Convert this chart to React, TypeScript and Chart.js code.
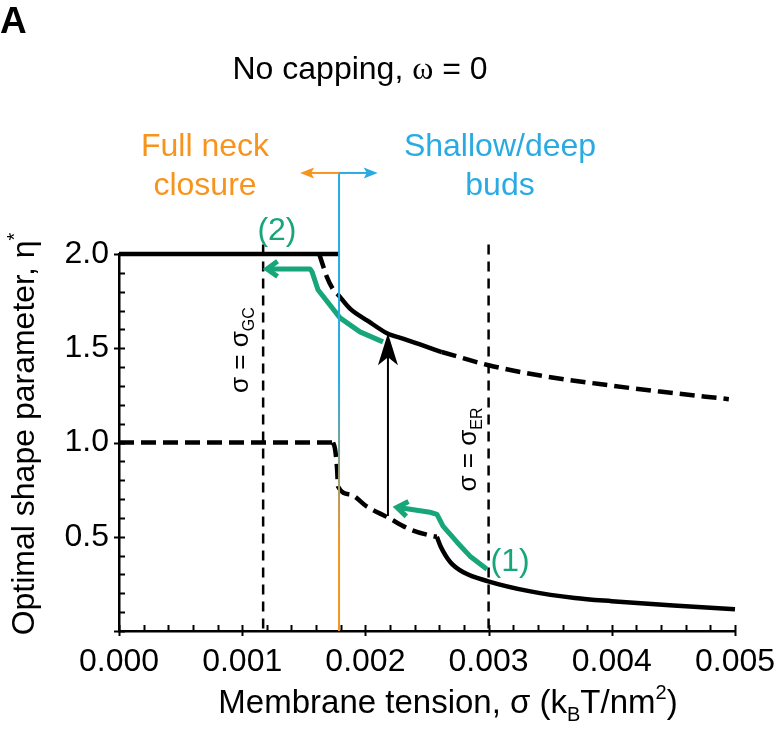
import React, { useEffect, useRef } from "react";
import { Chart, registerables } from "chart.js";
Chart.register(...registerables);

// ---------- axis definition ----------
const xTickLabels = ["0.000", "0.001", "0.002", "0.003", "0.004", "0.005"];
const yTickLabels = ["0.5", "1.0", "1.5", "2.0"];
const X_MAX = 0.005;
const X_MINOR = 0.0002;
const X_MAJOR = 0.001;
const Y_MAX = 2.0;
const Y_MINOR = 0.1;
const Y_MAJOR = 0.5;

// ---------- upper branch (eta ~ 2) ----------
const upperFlatSigma = [0, 0.001786];
const upperFlatEta = [2.0, 2.0];
const upperDropSigma = [0.001625, 0.001655, 0.001686, 0.00174, 0.00178];
const upperDropEta = [2.0, 1.94, 1.88, 1.81, 1.783];
const upperStableSigma = [0.00178, 0.001875, 0.00202, 0.002175, 0.00231, 0.002443, 0.00262];
const upperStableEta = [1.783, 1.71, 1.645, 1.58, 1.55, 1.52, 1.48];
const upperMetaSigma = [0.00262, 0.003, 0.00342, 0.0039, 0.00439, 0.00495];
const upperMetaEta = [1.48, 1.41, 1.355, 1.31, 1.27, 1.23];

// ---------- lower branch (eta ~ 1) ----------
const lowerFlatSigma = [0, 0.001737];
const lowerFlatEta = [1.0, 1.0];
const lowerMetaSigma = [0.001737, 0.001753, 0.00177, 0.001778, 0.001875, 0.00201, 0.00218, 0.00236, 0.00255, 0.00258];
const lowerMetaEta = [1.0, 0.968, 0.862, 0.767, 0.725, 0.661, 0.603, 0.54, 0.503, 0.5];
const lowerStableSigma = [0.00258, 0.00261, 0.00269, 0.0028, 0.00299, 0.00334, 0.0037, 0.004, 0.0045, 0.005];
const lowerStableEta = [0.5, 0.45, 0.365, 0.31, 0.265, 0.21, 0.175, 0.158, 0.135, 0.115];

// ---------- annotations (data coordinates) ----------
const sigmaGC = 0.00117;
const sigmaER = 0.003;
const sigmaTransition = 0.001786;
const guideTopEta = 2.05;
const transitionTopEta = 2.43;
const transitionArrowLeft = 0.00147;
const transitionArrowRight = 0.0021;

const jumpSigma = 0.002183;
const jumpFromEta = 0.61;
const jumpToEta = 1.58;

const path2Sigma = [0.002143, 0.001956, 0.001794, 0.001615, 0.001567, 0.00155, 0.001201];
const path2Eta = [1.534, 1.587, 1.661, 1.81, 1.905, 1.921, 1.921];
const path1Sigma = [0.002987, 0.002849, 0.002744, 0.00263, 0.002581, 0.002524, 0.002256];
const path1Eta = [0.328, 0.397, 0.471, 0.556, 0.619, 0.63, 0.656];

const label2Pos = [0.001282, 2.074];
const label1Pos = [0.003174, 0.317];
const labelGCPos = [0.001045, 1.49];
const labelERPos = [0.002895, 0.963];

const FONT = "'Liberation Sans', Arial, Helvetica, sans-serif";
const SERIF = "'Liberation Serif', 'Times New Roman', serif";
const GREEN = "#17A57A";
const BLUE = "#29ABE2";
const ORANGE = "#F7941D";
const TXT = 32;

const zip = (xs: number[], ys: number[]) => xs.map((v, i) => ({ x: v, y: ys[i] }));

type Seg = { t: string; k?: "sub" | "sup"; serif?: boolean };

function drawRich(ctx: CanvasRenderingContext2D, segs: Seg[], x: number, y: number, size: number, color: string) {
  const small = Math.round(size * 0.62);
  const fontOf = (s: Seg) => `${s.k ? small : size}px ${s.serif ? SERIF : FONT}`;
  const widths = segs.map((s) => {
    ctx.font = fontOf(s);
    return ctx.measureText(s.t).width;
  });
  const total = widths.reduce((a, b) => a + b, 0);
  let cx = x - total / 2;
  ctx.fillStyle = color;
  ctx.textAlign = "left";
  ctx.textBaseline = "alphabetic";
  segs.forEach((s, i) => {
    ctx.font = fontOf(s);
    const dy = s.k === "sub" ? size * 0.25 : s.k === "sup" ? -size * 0.42 : 0;
    ctx.fillText(s.t, cx, y + dy);
    cx += widths[i];
  });
}

function filledHead(ctx: CanvasRenderingContext2D, tx: number, ty: number, ang: number, len: number, hw: number, notch: number, color: string) {
  ctx.save();
  ctx.translate(tx, ty);
  ctx.rotate(ang);
  ctx.fillStyle = color;
  ctx.beginPath();
  ctx.moveTo(0, 0);
  ctx.lineTo(-len, -hw);
  ctx.lineTo(-len + notch, 0);
  ctx.lineTo(-len, hw);
  ctx.closePath();
  ctx.fill();
  ctx.restore();
}

const annotPlugin = {
  id: "annot",
  beforeDatasetsDraw(chart: any) {
    const { ctx, chartArea } = chart;
    const x = chart.scales.x;
    const y = chart.scales.y;
    ctx.save();
    ctx.strokeStyle = "#000";
    ctx.lineWidth = 2.5;
    ctx.setLineDash([10, 7]);
    for (const s of [sigmaGC, sigmaER]) {
      const px = x.getPixelForValue(s);
      ctx.beginPath();
      ctx.moveTo(px, y.getPixelForValue(guideTopEta));
      ctx.lineTo(px, chartArea.bottom);
      ctx.stroke();
    }
    ctx.restore();
  },
  afterDatasetsDraw(chart: any) {
    const { ctx, chartArea } = chart;
    const x = chart.scales.x;
    const y = chart.scales.y;
    ctx.save();

    const drawPath = (xs: number[], ys: number[]) => {
      ctx.strokeStyle = GREEN;
      ctx.lineWidth = 5;
      ctx.lineJoin = "round";
      ctx.lineCap = "butt";
      ctx.beginPath();
      xs.forEach((s, i) => {
        const px = x.getPixelForValue(s);
        const py = y.getPixelForValue(ys[i]);
        if (i === 0) ctx.moveTo(px, py);
        else ctx.lineTo(px, py);
      });
      ctx.stroke();
      const n = xs.length;
      const tx = x.getPixelForValue(xs[n - 1]);
      const ty = y.getPixelForValue(ys[n - 1]);
      const px = x.getPixelForValue(xs[n - 2]);
      const py = y.getPixelForValue(ys[n - 2]);
      const ang = Math.atan2(ty - py, tx - px);
      ctx.lineJoin = "miter";
      ctx.beginPath();
      const L = 13;
      const spread = 0.62;
      ctx.moveTo(tx - L * Math.cos(ang - spread), ty - L * Math.sin(ang - spread));
      ctx.lineTo(tx, ty);
      ctx.lineTo(tx - L * Math.cos(ang + spread), ty - L * Math.sin(ang + spread));
      ctx.stroke();
    };
    drawPath(path2Sigma, path2Eta);
    drawPath(path1Sigma, path1Eta);

    // black jump arrow
    const jx = x.getPixelForValue(jumpSigma);
    const jy0 = y.getPixelForValue(jumpFromEta);
    const jy1 = y.getPixelForValue(jumpToEta);
    ctx.strokeStyle = "#000";
    ctx.lineWidth = 2;
    ctx.beginPath();
    ctx.moveTo(jx, jy0);
    ctx.lineTo(jx, jy1 + 20);
    ctx.stroke();
    filledHead(ctx, jx, jy1, -Math.PI / 2, 32, 10, 8, "#000");

    // transition line with gradient
    const tx = x.getPixelForValue(sigmaTransition);
    const ttop = y.getPixelForValue(transitionTopEta);
    const tbot = chartArea.bottom;
    const grad = ctx.createLinearGradient(0, ttop, 0, tbot);
    grad.addColorStop(0, BLUE);
    grad.addColorStop(0.46, BLUE);
    grad.addColorStop(0.82, ORANGE);
    grad.addColorStop(1, ORANGE);
    ctx.strokeStyle = grad;
    ctx.lineWidth = 2;
    ctx.beginPath();
    ctx.moveTo(tx, ttop);
    ctx.lineTo(tx, tbot);
    ctx.stroke();
    const lx = x.getPixelForValue(transitionArrowLeft);
    const rx = x.getPixelForValue(transitionArrowRight);
    ctx.strokeStyle = ORANGE;
    ctx.beginPath();
    ctx.moveTo(tx, ttop);
    ctx.lineTo(lx + 8, ttop);
    ctx.stroke();
    filledHead(ctx, lx, ttop, Math.PI, 14, 5.5, 3, ORANGE);
    ctx.strokeStyle = BLUE;
    ctx.beginPath();
    ctx.moveTo(tx, ttop);
    ctx.lineTo(rx - 8, ttop);
    ctx.stroke();
    filledHead(ctx, rx, ttop, 0, 14, 5.5, 3, BLUE);

    // in-plot labels
    drawRich(ctx, [{ t: "(2)" }], x.getPixelForValue(label2Pos[0]), y.getPixelForValue(label2Pos[1]), TXT, GREEN);
    drawRich(ctx, [{ t: "(1)" }], x.getPixelForValue(label1Pos[0]), y.getPixelForValue(label1Pos[1]), TXT, GREEN);

    const rot = (segs: Seg[], px: number, py: number) => {
      ctx.save();
      ctx.translate(px, py);
      ctx.rotate(-Math.PI / 2);
      drawRich(ctx, segs, 0, 0, 26, "#000");
      ctx.restore();
    };
    rot([{ t: "σ = σ" }, { t: "GC", k: "sub" }], x.getPixelForValue(labelGCPos[0]), y.getPixelForValue(labelGCPos[1]));
    rot([{ t: "σ = σ" }, { t: "ER", k: "sub" }], x.getPixelForValue(labelERPos[0]), y.getPixelForValue(labelERPos[1]));

    ctx.restore();
  },
  afterDraw(chart: any) {
    const { ctx, chartArea } = chart;
    const x = chart.scales.x;
    const y = chart.scales.y;
    ctx.save();
    // inward tick marks (major ones cross the axis)
    ctx.strokeStyle = "#000";
    ctx.lineWidth = 2;
    x.ticks.forEach((t: any) => {
      const major = Math.abs(t.value / X_MAJOR - Math.round(t.value / X_MAJOR)) < 1e-4;
      const px = Math.round(x.getPixelForValue(t.value)) + 0.5;
      ctx.beginPath();
      ctx.moveTo(px, chartArea.bottom + (major ? 5 : 0));
      ctx.lineTo(px, chartArea.bottom - 6);
      ctx.stroke();
    });
    y.ticks.forEach((t: any) => {
      const major = Math.abs(t.value / Y_MAJOR - Math.round(t.value / Y_MAJOR)) < 1e-4;
      const py = Math.round(y.getPixelForValue(t.value)) + 0.5;
      ctx.beginPath();
      ctx.moveTo(chartArea.left - (major ? 5 : 0), py);
      ctx.lineTo(chartArea.left + 6, py);
      ctx.stroke();
    });

    // panel letter and title
    ctx.fillStyle = "#000";
    ctx.textAlign = "left";
    ctx.textBaseline = "alphabetic";
    ctx.font = `bold 37px ${FONT}`;
    ctx.fillText("A", 0, 33);
    drawRich(ctx, [{ t: "No capping, " }, { t: "ω", serif: true }, { t: " = 0" }], 360, 79, TXT, "#000");

    // region labels
    drawRich(ctx, [{ t: "Full neck" }], 205, 156, TXT, ORANGE);
    drawRich(ctx, [{ t: "closure" }], 205, 195, TXT, ORANGE);
    drawRich(ctx, [{ t: "Shallow/deep" }], 500, 156, TXT, BLUE);
    drawRich(ctx, [{ t: "buds" }], 500, 195, TXT, BLUE);

    // axis titles
    drawRich(ctx, [{ t: "Membrane tension, σ (k" }, { t: "B", k: "sub" }, { t: "T/nm" }, { t: "2", k: "sup" }, { t: ")" }], 448, 713, 33, "#000");
    ctx.save();
    ctx.translate(34, 434);
    ctx.rotate(-Math.PI / 2);
    drawRich(ctx, [{ t: "Optimal shape parameter, η" }, { t: "*", k: "sup" }], 0, 0, 32, "#000");
    ctx.restore();
    ctx.restore();
  },
};

export default function App() {
  const ref = useRef<HTMLCanvasElement | null>(null);
  useEffect(() => {
    if (!ref.current) return;
    const solid = { borderColor: "#000", borderWidth: 4.5, pointRadius: 0, showLine: true, fill: false, clip: 8, borderCapStyle: "butt" as const };
    const dashed = { ...solid, borderDash: [15, 7] };
    const chart = new Chart(ref.current, {
      type: "scatter",
      data: {
        datasets: [
          { ...solid, data: zip(upperFlatSigma, upperFlatEta), tension: 0 },
          { ...dashed, data: zip(upperDropSigma, upperDropEta), cubicInterpolationMode: "monotone" },
          { ...solid, data: zip(upperStableSigma, upperStableEta), cubicInterpolationMode: "monotone" },
          { ...dashed, data: zip(upperMetaSigma, upperMetaEta), cubicInterpolationMode: "monotone" },
          { ...dashed, data: zip(lowerFlatSigma, lowerFlatEta), tension: 0 },
          { ...dashed, data: zip(lowerMetaSigma, lowerMetaEta), cubicInterpolationMode: "monotone" },
          { ...solid, data: zip(lowerStableSigma, lowerStableEta), cubicInterpolationMode: "monotone" },
        ] as any,
      },
      options: {
        animation: false,
        responsive: false,
        devicePixelRatio: 1,
        layout: { padding: { top: 254, right: 39, left: 0, bottom: 0 } },
        plugins: { legend: { display: false }, tooltip: { enabled: false }, title: { display: false } },
        scales: {
          x: {
            type: "linear",
            min: 0,
            max: X_MAX,
            grid: { display: false, drawTicks: false },
            border: { display: true, color: "#000", width: 2.5 },
            ticks: {
              stepSize: X_MINOR,
              autoSkip: false,
              maxRotation: 0,
              padding: 12,
              color: "#000",
              font: { family: FONT, size: TXT },
              callback: (v: any) => {
                const n = Number(v);
                const idx = Math.round(n / X_MAJOR);
                return Math.abs(n - idx * X_MAJOR) < 1e-7 ? xTickLabels[idx] ?? "" : "";
              },
            },
            afterFit: (s: any) => {
              s.height = 116;
              s.paddingLeft = 0;
              s.paddingRight = 0;
            },
          },
          y: {
            type: "linear",
            min: 0,
            max: Y_MAX,
            grid: { display: false, drawTicks: false },
            border: { display: true, color: "#000", width: 2.5 },
            ticks: {
              stepSize: Y_MINOR,
              autoSkip: false,
              padding: 10,
              color: "#000",
              font: { family: FONT, size: TXT },
              callback: (v: any) => {
                const n = Number(v);
                const idx = Math.round(n / Y_MAJOR);
                return idx >= 1 && Math.abs(n - idx * Y_MAJOR) < 1e-6 ? yTickLabels[idx - 1] ?? "" : "";
              },
            },
            afterFit: (s: any) => {
              s.width = 119;
              s.paddingTop = 0;
              s.paddingBottom = 0;
            },
          },
        },
      },
      plugins: [annotPlugin],
    });
    return () => chart.destroy();
  }, []);
  return (
    <div style={{ position: "absolute", left: 0, top: 0, width: 774, height: 747, background: "#fff" }}>
      <canvas ref={ref} width={774} height={747} style={{ width: 774, height: 747 }} />
    </div>
  );
}
